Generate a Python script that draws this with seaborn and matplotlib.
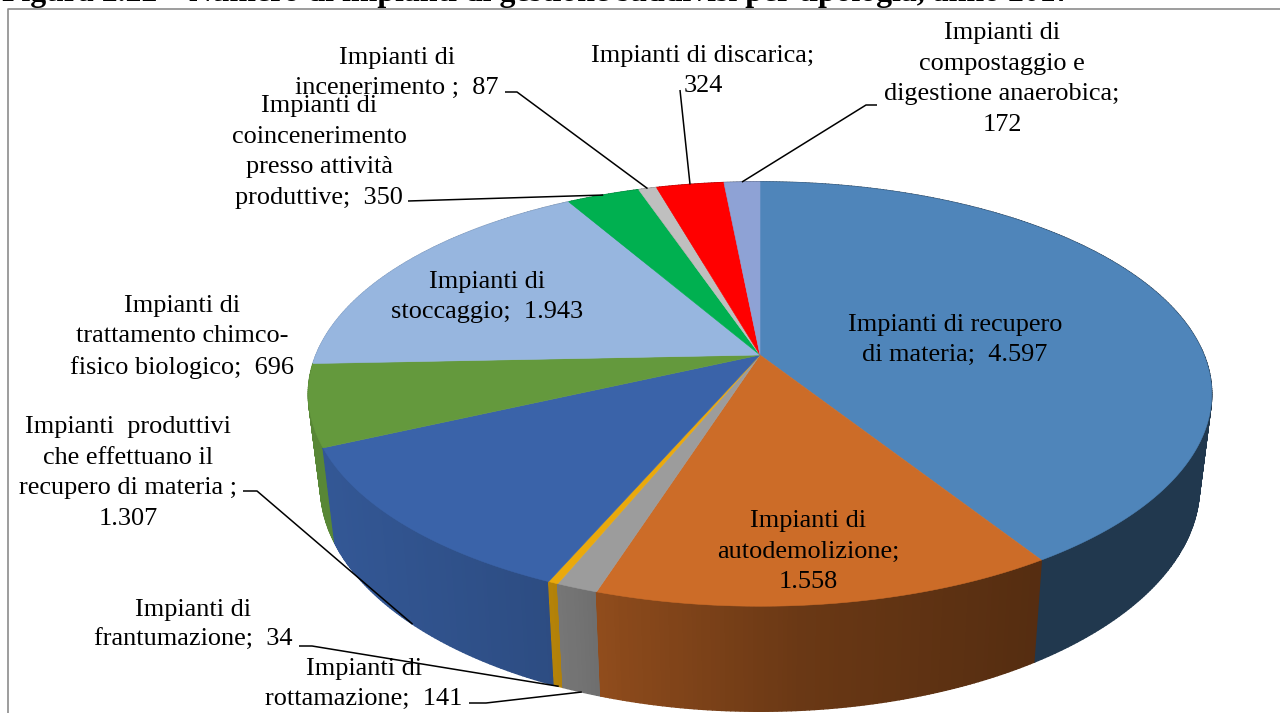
import numpy as np
import matplotlib
matplotlib.use("Agg")
import matplotlib.pyplot as plt
import seaborn as sns

# ---- data (clockwise from 12 o'clock) ----
categories = ["Impianti di recupero di materia", "Impianti di autodemolizione",
              "Impianti di rottamazione", "Impianti di frantumazione",
              "Impianti produttivi che effettuano il recupero di materia",
              "Impianti di trattamento chimco-fisico biologico", "Impianti di stoccaggio",
              "Impianti di coincenerimento presso attività produttive",
              "Impianti di incenerimento", "Impianti di discarica",
              "Impianti di compostaggio e digestione anaerobica"]
values = [4597, 1558, 141, 34, 1307, 696, 1943, 350, 87, 324, 172]
top_colors = ["#4F85BA", "#CC6C28", "#9C9C9C", "#EAA90C", "#3A63A9", "#64993D",
              "#97B6DF", "#00B050", "#BFBFBF", "#FF0000", "#8EA2D5"]
title = "Figura 2.22 – Numero di impianti di gestione suddivisi per tipologia, anno 2017"

sns.set_theme(style="white")
plt.rcParams["font.family"] = ["Liberation Serif", "DejaVu Serif"]
palette = sns.color_palette(top_colors)

fig = plt.figure(figsize=(12.8, 7.13), dpi=100)
ax = fig.add_axes([0, 0, 1, 1])
ax.set_xlim(0, 1280)
ax.set_ylim(713, 0)
ax.axis("off")

# perspective disc: apex position, radii, foreshortening
CX, CY, A, B, K = 760.0, 355.0, 444.0, 205.0, 0.184
SX, SY, Y0 = 0.973, 1.06, 445.0  # lower rim of the disc


def rim(theta, lower=False):
    t = np.radians(theta)
    u, v = np.sin(t), np.cos(t)
    d = 1 + K * v
    if lower:
        return CX + SX * A * u / d, Y0 - SY * B * v / d
    return CX + A * u / d, CY - B * v / d


def shade(x):
    return np.interp(x, [330, 550, 620, 800, 1034, 1212],
                     [0.88, 0.77, 0.68, 0.52, 0.42, 0.42])


fractions = np.array(values) / np.sum(values)
edges = np.concatenate([[0], np.cumsum(fractions)]) * 360
mids = (edges[:-1] + edges[1:]) / 2

# side wall, far to near
quads = []
for i, col in enumerate(palette):
    th = np.arange(edges[i], edges[i + 1] + 0.5, 0.5)
    th[-1] = edges[i + 1]
    for a, b in zip(th[:-1], th[1:]):
        quads.append((np.cos(np.radians((a + b) / 2)), a, b, col))
quads.sort(key=lambda q: -q[0])
for _, a, b, col in quads:
    x1, y1 = rim(a)
    x2, y2 = rim(b)
    x3, y3 = rim(b, True)
    x4, y4 = rim(a, True)
    f = shade((x1 + x2) / 2)
    c = tuple(np.array(col) * f)
    ax.fill([x1, x2, x3, x4], [y1, y2, y3, y4], color=c, lw=1.0, zorder=2)

# top surface
for i, col in enumerate(palette):
    th = np.linspace(edges[i], edges[i + 1], max(4, int(edges[i + 1] - edges[i]) * 2))
    xs, ys = rim(th)
    ax.fill(np.r_[CX, xs], np.r_[CY, ys], color=col, lw=0.4, zorder=3)

# labels: x, y, text
FS = 18.9
labels = [
    (955, 340, "Impianti di recupero\ndi materia;  4.597"),
    (808, 552, "Impianti di\nautodemolizione;\n1.558"),
    (364, 684, "Impianti di\nrottamazione;  141"),
    (193, 625, "Impianti di\nfrantumazione;  34"),
    (128, 473, "Impianti  produttivi\nche effettuano il\nrecupero di materia ;\n1.307"),
    (182, 337, "Impianti di\ntrattamento chimco-\nfisico biologico;  696"),
    (487, 297, "Impianti di\nstoccaggio;  1.943"),
    (319, 152, "Impianti di\ncoincenerimento\npresso attività\nproduttive;  350"),
    (397, 73, "Impianti di\nincenerimento ;  87"),
    (703, 71, "Impianti di discarica;\n324"),
    (1002, 79, "Impianti di\ncompostaggio e\ndigestione anaerobica;\n172"),
]
for x, y, s in labels:
    ax.text(x, y, s, ha="center", va="center", fontsize=FS, color="black",
            linespacing=1.5, zorder=6)

# leader lines: slice index, lower rim?, elbow points
leaders = [
    (2, True, [(469, 703), (486, 703)]),
    (3, True, [(299, 646), (312, 646)]),
    (4, True, [(243, 491), (257, 491)]),
    (7, False, [(408, 201)]),
    (8, False, [(505, 92), (517, 92)]),
    (9, False, [(680, 90)]),
    (10, False, [(877, 105), (866, 105)]),
]
for i, lower, pts in leaders:
    ex, ey = rim(mids[i], lower)
    xs = [p[0] for p in pts] + [float(ex)]
    ys = [p[1] for p in pts] + [float(ey)]
    ax.plot(xs, ys, color="black", lw=1.1, zorder=5, solid_capstyle="butt")

# page frame
ax.plot([8, 8, 1280], [713, 9, 9], color="#8C8C8C", lw=1.2, zorder=1)

# title, cut off by the top of the page
ax.text(2, 1.5, title, ha="left", va="baseline", fontsize=22.9, fontweight="bold",
        color="black", zorder=6, clip_on=True)

fig.savefig("out.png", dpi=100)
